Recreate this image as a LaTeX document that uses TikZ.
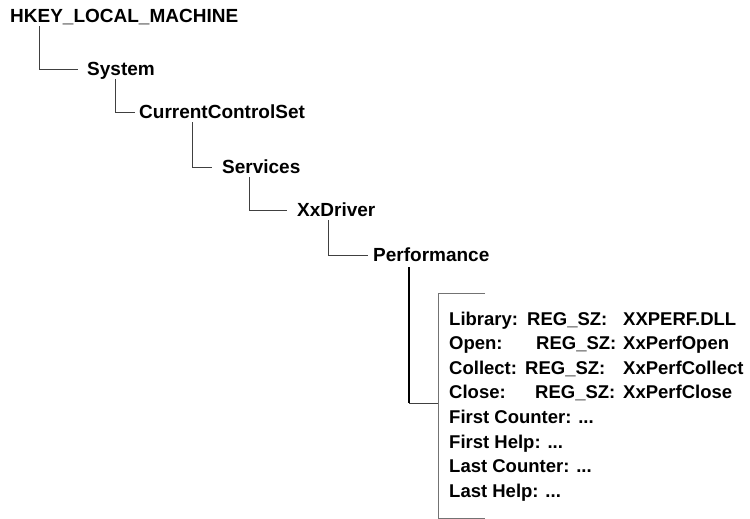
\documentclass[tikz,border=0pt]{standalone}
\usepackage{fontspec}
\setmainfont{Liberation Sans}
\usetikzlibrary{positioning,calc}

\begin{document}
\begin{tikzpicture}[x=1pt,y=-1pt,
  key/.style={font=\fontsize{19}{22}\selectfont\bfseries,inner sep=0pt,
    text height=13.6pt,text depth=0pt,anchor=west},
  entry/.style={font=\fontsize{18.5}{22}\selectfont\bfseries,inner sep=0pt,anchor=base west},
  link/.style={black!75,line width=.8pt},
  bar/.style={black,line width=2.6pt},
  brace/.style={black!55,line width=.7pt}]
\useasboundingbox (0,0) rectangle (750,519);
% registry path
\node[key] (hklm) at (10,16) {HKEY\_LOCAL\_MACHINE};
\node[key] (sys) at (87,69) {System};
\node[key] (ccs) at (139,112) {CurrentControlSet};
\node[key] (svc) at (222,167) {Services};
\node[key] (drv) at (297,210) {XxDriver};
\node[key] (perf) at (373,255) {Performance};
\foreach \a/\b/\dx/\gap in {hklm/sys/29/9,sys/ccs/28/4,ccs/svc/53/10,svc/drv/27/10,drv/perf/31/5}{
  \draw[link] ([xshift=\dx pt,yshift=-3pt]\a.south west) |- ([xshift=-\gap pt]\b.west);
}
% values under Performance
\foreach \i/\k/\tx/\v in {1/Library:/527/XXPERF.DLL,2/Open:/536/XxPerfOpen,
  3/Collect:/525/XxPerfCollect,4/Close:/535/XxPerfClose}{
  \node[entry] (name\i) at (449,{300.4+24.6*\i}) {\k};
  \node[entry] (type\i) at (\tx,{300.4+24.6*\i}) {REG\_SZ:};
  \node[entry] (data\i) at (623,{300.4+24.6*\i}) {\v};
}
\foreach \i/\k in {5/First Counter:,6/First Help:,7/Last Counter:,8/Last Help:}{
  \node[entry] (name\i) at (449,{300.4+24.6*\i}) {\k{} ...};
}
\draw[brace] (485,293) -- (438,293) -- (438,518) -- (485,518);
\coordinate (brk) at (438,403);
\draw[bar] ([xshift=36pt,yshift=-5pt]perf.south west) coordinate (ptop) -- (ptop |- brk) coordinate (pbot);
\draw[link] (pbot) -- (brk);
\end{tikzpicture}
\end{document}
